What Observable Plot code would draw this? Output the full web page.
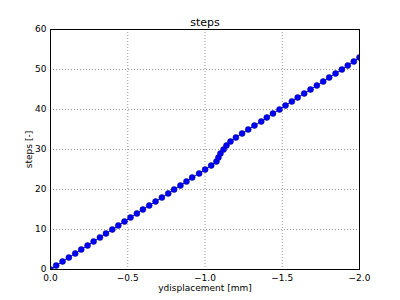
<!DOCTYPE html>
<html><head><meta charset="utf-8">
<script src="https://cdn.jsdelivr.net/npm/d3@7"></script>
<script src="https://cdn.jsdelivr.net/npm/@observablehq/plot@0.6"></script>
<style>body{margin:0;background:#fff} svg{font-family:"DejaVu Sans",sans-serif;}</style>
</head><body><div id="chart"></div>
<script>
const steps = [0,1,2,3,4,5,6,7,8,9,10,11,12,13,14,15,16,17,18,19,20,21,22,23,24,25,26,27,28,29,30,31,32,33,34,35,36,37,38,39,40,41,42,43,44,45,46,47,48,49,50,51,52,53];
const ydisp = [0,-0.037,-0.078,-0.119,-0.16,-0.199,-0.24,-0.279,-0.32,-0.359,-0.4,-0.439,-0.479,-0.518,-0.559,-0.598,-0.639,-0.68,-0.721,-0.762,-0.8,-0.841,-0.88,-0.917,-0.962,-1.001,-1.04,-1.074,-1.087,-1.1,-1.12,-1.139,-1.165,-1.2,-1.24,-1.28,-1.32,-1.364,-1.4,-1.44,-1.482,-1.521,-1.562,-1.6,-1.642,-1.683,-1.724,-1.765,-1.804,-1.845,-1.886,-1.924,-1.963,-2.0];
const xTicks = [0,-0.5,-1,-1.5,-2];
const yTicks = [0,10,20,30,40,50,60];
const title = "steps";
const data = steps.map((s,i)=>({x: ydisp[i], y: s}));

const chart = Plot.plot({
  width: 400, height: 300,
  marginLeft: 50, marginRight: 41, marginTop: 29, marginBottom: 31,
  style: {fontSize: "9px", fontFamily: "DejaVu Sans, sans-serif", background: "#fff"},
  x: {domain: [0, -2]},
  y: {domain: [0, 60]},
  marks: [
    Plot.gridX(xTicks, {stroke: "#999", strokeOpacity: 1, strokeDasharray: "1,2"}),
    Plot.gridY(yTicks, {stroke: "#999", strokeOpacity: 1, strokeDasharray: "1,2"}),
    Plot.axisX(xTicks, {tickFormat: d3.format(".1f"), tickSize: 0, tickPadding: 5, label: "ydisplacement [mm]", labelAnchor: "center", labelArrow: "none", labelOffset: 21, fill: "#000"}),
    Plot.axisY(yTicks, {tickSize: 0, tickPadding: 4, label: "steps [-]", labelAnchor: "center", labelArrow: "none", labelOffset: 25, fill: "#000"}),
    Plot.line(data, {x: "x", y: "y", stroke: "#0000ff", strokeWidth: 1, clip: "frame"}),
    Plot.dot(data, {x: "x", y: "y", r: 3, fill: "#0000ff", stroke: "#000066", strokeWidth: 0.5, clip: "frame"}),
    Plot.frame({stroke: "#000", strokeWidth: 1}),
    Plot.text([title], {frameAnchor: "top", dy: -11, fontSize: 11, fill: "#000"})
  ]
});
document.getElementById("chart").appendChild(chart);
</script></body></html>
